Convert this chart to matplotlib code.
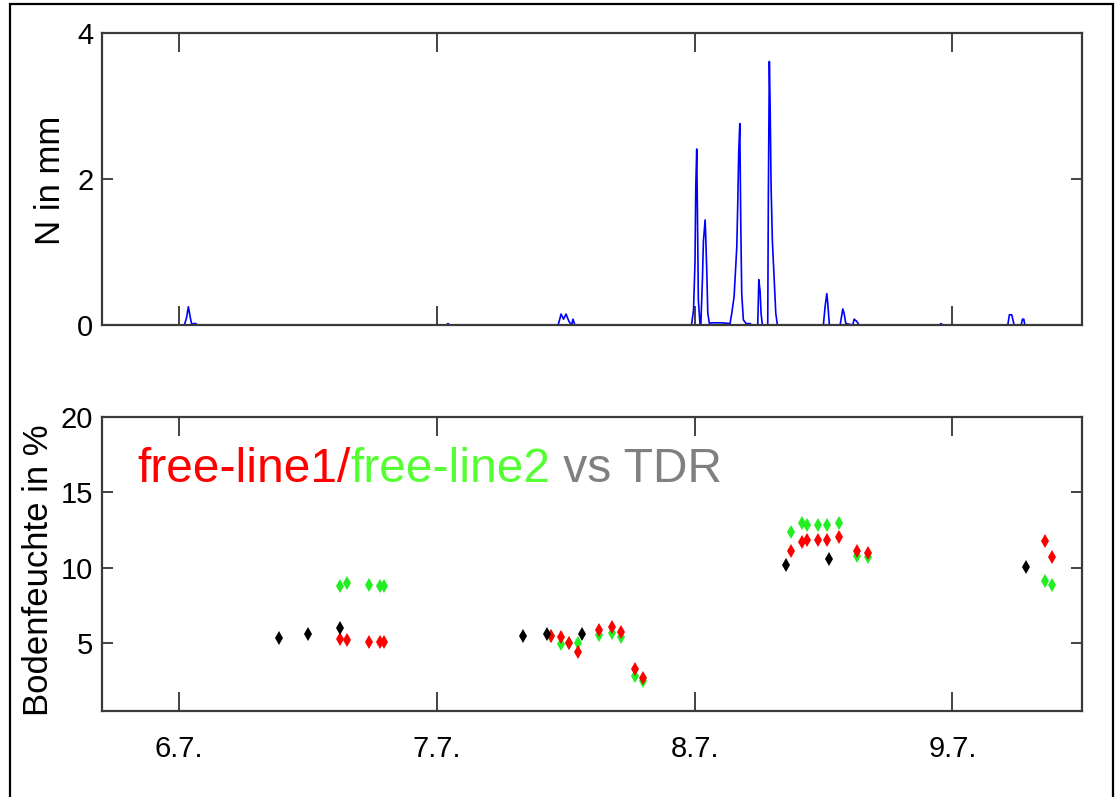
import matplotlib
matplotlib.use('Agg')
import matplotlib.pyplot as plt
from matplotlib.patches import Rectangle

plt.rcParams['font.family'] = ['Liberation Sans', 'DejaVu Sans']

# time axis: hours after 6.7. 00:00
day_ticks = [0, 24, 48, 72]
day_labels = ['6.7.', '7.7.', '8.7.', '9.7.']

# precipitation (N in mm)
rain_h = [-7, 0.5, 0.7, 0.87, 1.05, 1.2, 1.35, 1.55, 1.7,
          24.9, 25.04, 25.2,
          35.3, 35.57, 35.8, 36.03, 36.3, 36.55, 36.68, 36.85,
          47.71, 47.9, 48.04, 48.11, 48.20, 48.29, 48.35, 48.51,
          48.58, 48.73, 48.82, 48.98, 49.04, 49.14, 49.23, 49.38, 49.55, 50.5, 51.3,
          51.46, 51.68, 51.93, 52.02, 52.11, 52.21, 52.30, 52.39, 52.54, 52.8, 53.16, 53.3,
          53.88, 53.98, 54.10, 54.19, 54.31,
          54.81, 54.87, 54.96, 55.03, 55.12, 55.24, 55.40, 55.56, 55.71,
          59.99, 60.15, 60.31, 60.40, 60.55,
          61.55, 61.80, 61.92, 62.08,
          62.73, 62.85, 63.10, 63.31,
          70.8, 70.95, 71.1,
          77.16, 77.31, 77.53, 77.75,
          78.40, 78.53, 78.65, 78.75, 84]
rain_mm = [0, 0, 0.1, 0.25, 0.1, 0, 0.02, 0.02, 0,
           0, 0.02, 0,
           0, 0.15, 0.08, 0.15, 0.05, 0, 0.08, 0,
           0, 0.2, 0.87, 1.89, 2.41, 1.21, 0.34, 0,
           0, 0.62, 1.14, 1.44, 1.21, 0.71, 0.16, 0.02, 0.03, 0.03, 0.02,
           0.16, 0.39, 1.07, 1.67, 2.37, 2.76, 1.39, 0.43, 0.07, 0.02, 0.02, 0,
           0, 0.62, 0.46, 0.16, 0,
           0, 1.80, 3.61, 3.04, 1.92, 1.16, 0.66, 0.16, 0,
           0, 0.25, 0.43, 0.30, 0,
           0, 0.22, 0.16, 0.02,
           0, 0.08, 0.05, 0,
           0, 0.02, 0,
           0, 0.14, 0.14, 0,
           0, 0.08, 0.08, 0, 0]

# soil moisture, TDR reference (black)
tdr_h = [9.31, 12.04, 14.99, 32.0, 34.29, 37.49, 56.48, 60.51, 78.82]
tdr_val = [5.31, 5.64, 6.01, 5.46, 5.6, 5.6, 10.17, 10.56, 10.05]

# soil moisture, free-line1 (red) and free-line2 (green)
fl_h = [14.99, 15.67, 17.72, 18.71, 19.08,
        34.63, 35.53, 36.31, 37.17, 39.07, 40.34, 41.12, 42.45, 43.17,
        56.98, 57.97, 58.49, 59.46, 60.35, 61.44, 63.09, 64.17,
        80.62, 81.30]
fl1_val = [5.28, 5.2, 5.09, 5.09, 5.09,
           5.46, 5.38, 4.98, 4.42, 5.86, 6.04, 5.73, 3.26, 2.70,
           11.11, 11.71, 11.87, 11.87, 11.87, 12.04, 11.11, 10.98,
           11.75, 10.72]
fl2_val = [8.77, 9.02, 8.89, 8.77, 8.77,
           5.46, 4.93, 4.98, 4.98, 5.53, 5.68, 5.42, 2.81, 2.5,
           12.37, 12.97, 12.81, 12.81, 12.81, 12.97, 10.78, 10.72,
           9.13, 8.89]

W, H = 1117, 797
fig = plt.figure(figsize=(W / 100, H / 100), dpi=100)
fig.patch.set_facecolor('white')

ax1 = fig.add_axes([101.7 / W, 1 - 325 / H, 980.3 / W, 292 / H])
ax2 = fig.add_axes([101.7 / W, 1 - 711 / H, 980.3 / W, 294 / H])

tick_font = {'size': 21}

for ax in (ax1, ax2):
    ax.set_xlim(-7.2, 84.07)
    ax.set_xticks(day_ticks)
    for s in ax.spines.values():
        s.set_color('#3a3a3a')
        s.set_linewidth(1.6)
    ax.tick_params(axis='x', direction='in', length=14, width=1.2, color='#222222',
                   top=True, bottom=True, pad=17)
    ax.tick_params(axis='y', direction='in', length=8, width=1.2, color='#222222',
                   left=True, right=True, pad=6)

# top: precipitation
ax1.plot(rain_h, rain_mm, color='#0000ff', lw=1.2)
ax1.set_ylim(0, 4)
ax1.set_yticks([0, 2, 4])
ax1.set_yticklabels(['0', '2', '4'], fontdict=tick_font)
ax1.set_xticklabels([])
ax1.set_ylabel('N in mm', fontsize=25, va='center')
ax1.yaxis.set_label_coords(-0.052, 0.497)

# bottom: soil moisture
ax2.plot(fl_h, fl2_val, linestyle='none', marker='d', ms=7.5, mew=0, color='#22ee22')
ax2.plot(fl_h, fl1_val, linestyle='none', marker='d', ms=7.5, mew=0, color='#ff0000')
ax2.plot(tdr_h, tdr_val, linestyle='none', marker='d', ms=7.5, mew=0, color='black')
ax2.set_ylim(0.5, 20)
ax2.set_yticks([5, 10, 15, 20])
ax2.set_yticklabels(['5', '10', '15', '20'], fontdict=tick_font)
ax2.set_xticklabels(day_labels, fontdict=tick_font)
ax2.set_ylabel('Bodenfeuchte in %', fontsize=25, va='center')
ax2.yaxis.set_label_coords(-0.064, 0.48)

t1 = ax2.text(0.036, 0.779, 'free-line1/', color='#ff0000', fontsize=34.5,
              transform=ax2.transAxes, va='baseline')
t2 = ax2.annotate('free-line2', xy=(1, 0), xycoords=t1, va='bottom',
                  color='#55ff33', fontsize=34.5)
ax2.annotate(' vs TDR', xy=(1, 0), xycoords=t2, va='bottom',
             color='#808080', fontsize=34.5)

# outer frame
fig.add_artist(Rectangle((10 / W, -0.05), 1103 / W, 1.05 - 4 / H,
                         transform=fig.transFigure, fill=False, lw=1.6, ec='black'))

fig.savefig('out.png', dpi=100)
